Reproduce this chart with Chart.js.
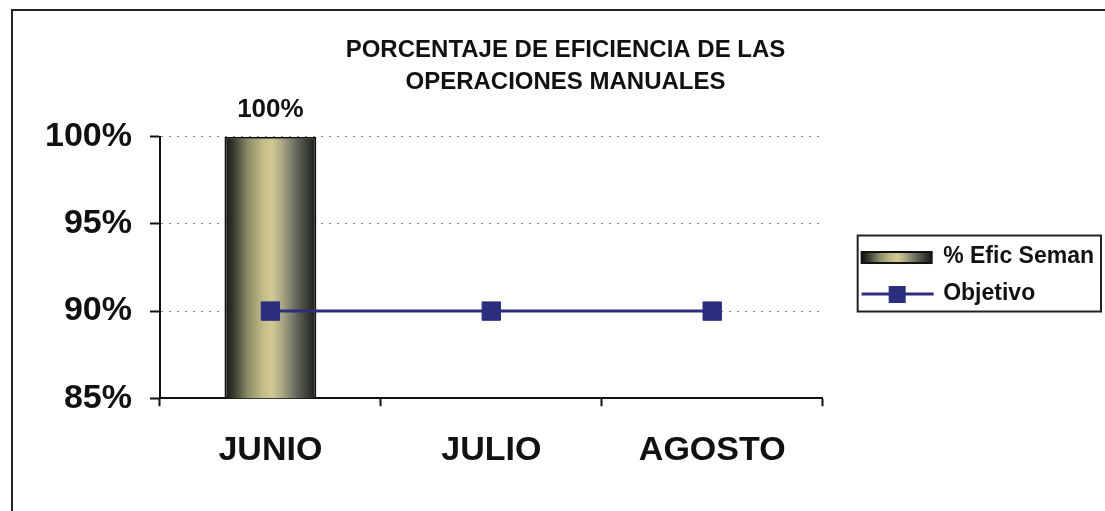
<!DOCTYPE html>
<html>
<head>
<meta charset="utf-8">
<script src="https://cdn.jsdelivr.net/npm/chart.js@4.4.0/dist/chart.umd.min.js"></script>
<style>
  html, body { margin: 0; padding: 0; background: #fff; overflow: hidden; }
  #wrap { position: relative; width: 1105px; height: 511px; }
  #marco { position: absolute; left: 11px; top: 9px; width: 1200px; height: 600px;
           border-top: 2px solid #222; border-left: 2px solid #222; pointer-events: none; }
</style>
</head>
<body>
<div id="wrap">
  <canvas id="grafico" width="1105" height="511"></canvas>
  <div id="marco"></div>
</div>
<script>
// datos
const meses = ['JUNIO', 'JULIO', 'AGOSTO'];
const eficSemanal = [100, null, null];
const objetivo = [90, 90, 90];
const tituloLineas = ['PORCENTAJE DE EFICIENCIA DE LAS', 'OPERACIONES MANUALES'];
const serieNombres = ['% Efic Seman', 'Objetivo'];

const fuente = "'Liberation Sans', Arial, sans-serif";
const azul = '#2b2d7d';
const huecoLeyenda = 25; // espacio entre el area del grafico y la leyenda

function gradienteBarra(ctx, x0, x1) {
  const g = ctx.createLinearGradient(x0, 0, x1, 0);
  g.addColorStop(0, '#121210');
  g.addColorStop(0.1, '#3a3a30');
  g.addColorStop(0.25, '#8a8a68');
  g.addColorStop(0.42, '#c4bc88');
  g.addColorStop(0.52, '#d2c992');
  g.addColorStop(0.62, '#aeaa86');
  g.addColorStop(0.78, '#66685e');
  g.addColorStop(0.92, '#33382f');
  g.addColorStop(1, '#181c18');
  return g;
}

// deja un hueco a la izquierda de la leyenda
const separaLeyenda = {
  id: 'separaLeyenda',
  beforeInit(chart) {
    const lg = chart.legend;
    const fitOrig = lg.fit;
    lg.fit = function() {
      fitOrig.call(this);
      this.width += huecoLeyenda;
    };
  },
  afterLayout(chart) {
    chart.legend.left += huecoLeyenda;
  }
};

// relleno con degradado para la barra
const rellenoBarra = {
  id: 'rellenoBarra',
  beforeDatasetsDraw(chart) {
    const meta = chart.getDatasetMeta(0);
    meta.data.forEach(el => {
      const g = gradienteBarra(chart.ctx, el.x - el.width / 2, el.x + el.width / 2);
      el.options = Object.assign({}, el.options, { backgroundColor: g });
    });
  }
};

// etiqueta de valor encima de la barra
const etiquetaValor = {
  id: 'etiquetaValor',
  afterDatasetsDraw(chart) {
    const ctx = chart.ctx;
    const meta = chart.getDatasetMeta(0);
    ctx.save();
    ctx.font = 'bold 26px ' + fuente;
    ctx.fillStyle = '#111';
    ctx.textAlign = 'center';
    ctx.textBaseline = 'middle';
    meta.data.forEach((el, i) => {
      const v = eficSemanal[i];
      if (v === null) return;
      ctx.fillText(v + '%', el.x, el.y - 27);
    });
    ctx.restore();
  }
};

// muestras y recuadro de la leyenda
const marcoLeyenda = {
  id: 'marcoLeyenda',
  afterDraw(chart) {
    const lg = chart.legend;
    const hb = lg.legendHitBoxes;
    if (!hb || !hb.length) return;
    const ctx = chart.ctx;
    const bw = lg.options.labels.boxWidth;
    ctx.save();
    // barra
    const b = hb[0];
    const cy0 = b.top + b.height / 2;
    ctx.fillStyle = gradienteBarra(ctx, b.left, b.left + bw);
    ctx.fillRect(b.left, cy0 - 5, bw, 11);
    ctx.strokeStyle = '#111';
    ctx.lineWidth = 2;
    ctx.strokeRect(b.left, cy0 - 5, bw, 11);
    // linea con marcador
    const l = hb[1];
    const cy1 = l.top + l.height / 2;
    ctx.strokeStyle = azul;
    ctx.lineWidth = 3;
    ctx.beginPath();
    ctx.moveTo(l.left, cy1);
    ctx.lineTo(l.left + bw + 2, cy1);
    ctx.stroke();
    ctx.fillStyle = azul;
    ctx.fillRect(l.left + bw / 2 - 8, cy1 - 8, 17, 17);
    // recuadro
    let derecha = 0;
    hb.forEach(h => { derecha = Math.max(derecha, h.left + h.width); });
    const arriba = hb[0].top - 10;
    const abajo = hb[hb.length - 1].top + hb[hb.length - 1].height + 6;
    ctx.strokeStyle = '#222';
    ctx.lineWidth = 2;
    ctx.strokeRect(b.left - 4, arriba, Math.min(derecha + 7, chart.width - 3) - (b.left - 4), abajo - arriba);
    ctx.restore();
  }
};

new Chart(document.getElementById('grafico'), {
  data: {
    labels: meses,
    datasets: [{
      type: 'bar',
      label: serieNombres[0],
      data: eficSemanal,
      backgroundColor: '#b0a878',
      borderColor: '#111',
      borderWidth: 2,
      categoryPercentage: 0.8,
      barPercentage: 0.52,
      order: 1
    }, {
      type: 'line',
      label: serieNombres[1],
      data: objetivo,
      borderColor: azul,
      borderWidth: 3,
      backgroundColor: azul,
      pointStyle: 'rect',
      pointRadius: 13,
      pointBorderWidth: 1,
      pointBorderColor: azul,
      pointBackgroundColor: azul,
      order: 0
    }]
  },
  options: {
    responsive: false,
    animation: false,
    layout: { padding: { left: 27, right: 1, top: 0, bottom: 16 } },
    plugins: {
      tooltip: { enabled: false },
      title: {
        display: true,
        text: tituloLineas,
        color: '#111',
        font: { family: fuente, size: 24, weight: 'bold', lineHeight: 1.33 },
        padding: { top: 34, bottom: 39 }
      },
      legend: {
        position: 'right',
        fullSize: false,
        title: { display: true, text: '', font: { size: 10 }, padding: 2 },
        labels: {
          boxWidth: 70,
          boxHeight: 12,
          padding: 14,
          color: '#111',
          font: { family: fuente, size: 23, weight: 'bold' },
          generateLabels: chart => chart.data.datasets.map((ds, i) => ({
            text: ds.label,
            datasetIndex: i,
            fillStyle: 'rgba(0,0,0,0)',
            strokeStyle: 'rgba(0,0,0,0)',
            lineWidth: 0,
            fontColor: '#111',
            hidden: false
          }))
        }
      }
    },
    scales: {
      x: {
        grid: {
          offset: true,
          drawOnChartArea: false,
          drawTicks: true,
          tickLength: 8,
          tickColor: '#111',
          tickWidth: 2
        },
        border: { display: true, color: '#111', width: 2 },
        ticks: {
          color: '#111',
          padding: 24,
          font: { family: fuente, size: 34, weight: 'bold' }
        }
      },
      y: {
        min: 85,
        max: 100,
        ticks: {
          stepSize: 5,
          color: '#111',
          padding: 18,
          font: { family: fuente, size: 34, weight: 'bold' },
          callback: v => v + '%'
        },
        grid: {
          color: ctx => ctx.tick && ctx.tick.value === 85 ? 'rgba(0,0,0,0)' : '#8a8a8a',
          lineWidth: 1,
          drawTicks: true,
          tickLength: 10,
          tickColor: '#111',
          tickWidth: 2
        },
        border: { display: true, color: '#111', width: 2, dash: [2, 6] }
      }
    }
  },
  plugins: [separaLeyenda, rellenoBarra, etiquetaValor, marcoLeyenda]
});
</script>
</body>
</html>
